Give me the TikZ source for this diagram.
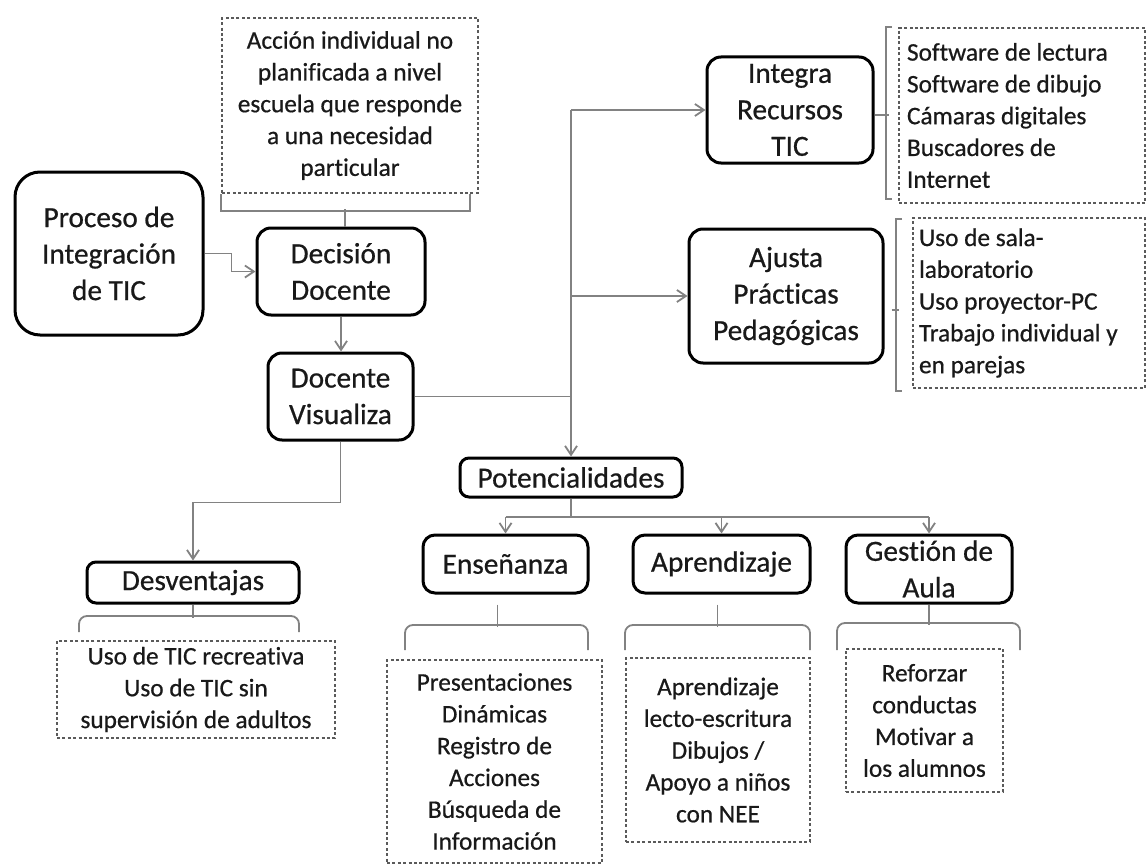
\documentclass[tikz,border=0pt]{standalone}
\usepackage{fontspec}
\setmainfont{Carlito}[FakeBold=0.6,Ligatures=CommonOff]
\usetikzlibrary{arrows.meta,calc}
\definecolor{conncol}{RGB}{130,130,130}
\definecolor{dashcol}{RGB}{90,90,90}
\definecolor{txtcol}{RGB}{25,25,25}
\newcommand{\bigtxt}{\fontsize{29.3}{36.5}\selectfont}
\newcommand{\smtxt}{\fontsize{25.3}{31.8}\selectfont}
\tikzset{
 mainbox/.style={draw=black, line width=3pt, rounded corners=14pt, align=center, font=\bigtxt, text=txtcol, inner sep=0pt},
 dbox/.style={draw=dashcol, line width=1.8pt, dash pattern=on 3pt off 2.4pt, font=\smtxt, text=txtcol, inner sep=0pt},
 conn/.style={draw=conncol, line width=1.8pt},
 arr/.style={-{Straight Barb[length=9pt,width=12pt,line width=1.8pt]}},
 brk/.style={draw=conncol, line width=1.8pt, rounded corners=8pt},
}
\begin{document}
\begin{tikzpicture}[x=1pt,y=-1pt]
\useasboundingbox[fill=white] (0,0) rectangle (1147,867);

% main boxes
\node[mainbox, minimum width=188pt, minimum height=163pt, rounded corners=25pt] (proc) at (109,253.5) {Proceso de\\Integración\\de TIC};
\node[mainbox, minimum width=168pt, minimum height=87pt] (dec) at (341,271.5) {Decisión\\Docente};
\node[mainbox, minimum width=145pt, minimum height=87pt] (vis) at (340.5,396.5) {Docente\\Visualiza};
\node[mainbox, minimum width=166pt, minimum height=106pt] (integ) at (790,110) {Integra\\Recursos\\TIC};
\node[mainbox, minimum width=194pt, minimum height=134pt] (ajus) at (786,296) {Ajusta\\Prácticas\\Pedagógicas};
\node[mainbox, minimum width=222pt, minimum height=39pt, rounded corners=9pt] (pot) at (571,477.5) {Potencialidades};
\node[mainbox, minimum width=212pt, minimum height=41pt, rounded corners=9pt] (des) at (193,582.5) {Desventajas};
\node[mainbox, minimum width=165pt, minimum height=58pt, rounded corners=12pt] (ens) at (505.5,564) {Enseñanza};
\node[mainbox, minimum width=177pt, minimum height=58pt, rounded corners=12pt] (apr) at (721.5,564) {Aprendizaje};
\node[mainbox, minimum width=166pt, minimum height=68pt, rounded corners=12pt] (ges) at (929,569) {Gestión de\\Aula};

% dashed boxes
\node[dbox, align=center, minimum width=256pt, minimum height=175pt] (acc) at (350,105.5) {Acción individual no\\planificada a nivel\\escuela que responde\\a una necesidad\\particular};
\node[dbox, align=flush left, text width=230pt, inner xsep=8pt, minimum height=175pt] (rec1) at (1022,115.5) {Software de lectura\\Software de dibujo\\Cámaras digitales\\Buscadores de\\Internet};
\node[dbox, align=flush left, text width=220pt, inner xsep=6pt, minimum height=170pt] (rec2) at (1029,303) {Uso de sala-\\laboratorio\\Uso proyector-PC\\Trabajo individual y\\en parejas};
\node[dbox, align=center, minimum width=278pt, minimum height=97pt] (desd) at (196,689.5) {Uso de TIC recreativa\\Uso de TIC sin\\supervisión de adultos};
\node[dbox, align=center, minimum width=215pt, minimum height=203pt] (ensd) at (494.5,761.5) {Presentaciones\\Dinámicas\\Registro de\\Acciones\\Búsqueda de\\Información};
\node[dbox, align=center, minimum width=184pt, minimum height=184pt] (aprd) at (718,750) {Aprendizaje\\lecto-escritura\\Dibujos /\\Apoyo a niños\\con NEE};
\node[dbox, align=center, minimum width=157pt, minimum height=143pt] (gesd) at (924.5,720.5) {Reforzar\\conductas\\Motivar a\\los alumnos};

% connectors
\draw[conn,arr] (proc.east) -- ++(27,0) |- (dec.west);
\draw[conn,arr] (dec.south) -- (dec.south |- vis.north);
\draw[conn] (vis.east) -- (vis.east -| pot.north);
\coordinate (trunktop) at (pot.north |- integ.west);
\draw[conn,arr] (trunktop) -- (pot.north);
\draw[conn,arr] (trunktop) -- (integ.west);
\draw[conn,arr] (pot.north |- ajus.west) -- (ajus.west);
\draw[conn,arr] (vis.south) -- ++(0,61) -| (des.north);
\draw[conn] (pot.south) -- ++(0,18.5) coordinate (bar);
\draw[conn] (ens.north |- bar) -- (ges.north |- bar);
\draw[conn,arr] (ens.north |- bar) -- (ens.north);
\draw[conn,arr] (apr.north |- bar) -- (apr.north);
\draw[conn,arr] (ges.north |- bar) -- (ges.north);

% bracket under Accion box
\draw[conn] (acc.south west) -- ++(0,17) -- ($(acc.south east)+(-9,17)$) -- ++(0,-17);
\draw[conn] ([xshift=4pt]dec.north) -- ++(0,-18);

% right brackets
\draw[conn] ($(rec1.north west)+(-6,0)$) -- ++(-6,0) -- ++(0,172) -- ++(6,0);
\draw[conn] ($(integ.east)+(0,5)$) -- ++(14,0);
\draw[conn] ($(rec2.north west)+(-10,2)$) -- ++(-6,0) -- ++(0,172) -- ++(6,0);
\draw[conn] ($(ajus.east)+(7,14)$) -- ++(7,0);

% bottom brackets
\draw[brk] (79,632) -- (79,616) -- (299,616) -- (299,632);
\draw[conn] (des.south) -- ++(0,13);
\draw[brk] (405,650) -- (405,625) -- (588,625) -- (588,650);
\draw[conn] ($(ens.south)+(-8,10)$) -- ++(0,22);
\draw[brk] (625,650) -- (625,625) -- (810,625) -- (810,650);
\draw[conn] ($(apr.south)+(-4,10)$) -- ++(0,22);
\draw[brk] (837,650) -- (837,623) -- (1020,623) -- (1020,650);
\draw[conn] (ges.south) -- ++(0,20);
\end{tikzpicture}
\end{document}
